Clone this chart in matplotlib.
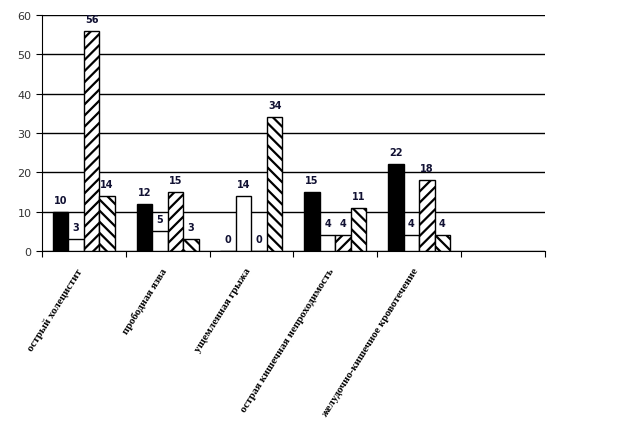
import numpy as np
import matplotlib.pyplot as plt
from matplotlib.transforms import ScaledTranslation

plt.rcParams['hatch.linewidth'] = 1.6

categories = ["острый холецистит", "прободная язва", "ущемленная грыжа",
              "острая кишечная непроходимость",
              "желудочно-кишечное кровотечение", ""]
series_black = [10, 12, 0, 15, 22]
series_white = [3, 5, 14, 4, 4]
series_fwd = [56, 15, 0, 4, 18]
series_back = [14, 3, 34, 11, 4]
yticks = [0, 10, 20, 30, 40, 50, 60]

fig = plt.figure(figsize=(6.44, 4.35), dpi=100)
ax = fig.add_axes([0.065, 0.421, 0.781, 0.542])

x = np.arange(len(series_black))
w = 0.185
styles = [
    (series_black, 'black', ''),
    (series_white, 'white', ''),
    (series_fwd, 'white', '///'),
    (series_back, 'white', '\\\\\\'),
]
for i, (vals, fc, hatch) in enumerate(styles):
    pos = x + (i - 1.5) * w
    ax.bar(pos, vals, width=w, color=fc, edgecolor='black', hatch=hatch,
           linewidth=1.0, zorder=3)
    for p, v in zip(pos, vals):
        ax.annotate(str(v), (p, v), xytext=(0, 5), textcoords='offset points',
                    ha='center', va='bottom', fontsize=7, fontweight='bold',
                    color='#111133')

ax.set_xlim(-0.5, len(categories) - 0.5)
ax.set_ylim(0, 60)
ax.set_yticks(yticks)
ax.yaxis.grid(True, color='black', linewidth=1.0, zorder=0)
ax.set_axisbelow(True)
ax.tick_params(axis='y', labelsize=8, length=4, color='black',
               labelcolor='#333333')

ax.set_xticks(np.arange(len(categories) + 1) - 0.5)
ax.set_xticklabels([])
ax.set_xticks(np.arange(len(categories)), minor=True)
ax.set_xticklabels(categories, minor=True, rotation=58, ha='right',
                   rotation_mode='anchor', fontsize=7.8, fontweight='bold',
                   family='Liberation Serif')
ax.tick_params(axis='x', which='major', length=4, color='black')
ax.tick_params(axis='x', which='minor', length=0, pad=11)

# nudge rotated labels a little to the left, like the original
shift = ScaledTranslation(-7 / 100, 0, fig.dpi_scale_trans)
for lbl in ax.get_xticklabels(minor=True):
    lbl.set_transform(lbl.get_transform() + shift)

for s in ['top', 'right']:
    ax.spines[s].set_visible(False)

fig.savefig('out.png', dpi=100)
